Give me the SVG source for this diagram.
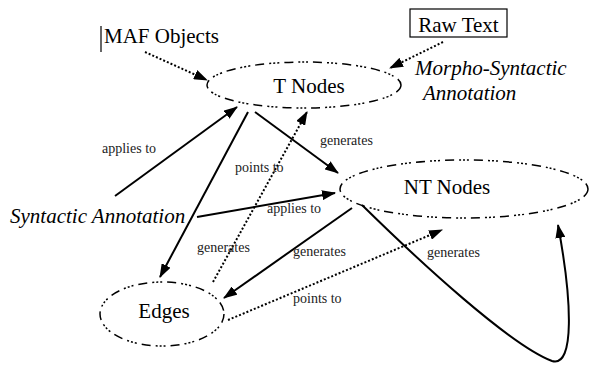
<svg xmlns="http://www.w3.org/2000/svg" width="589" height="365" viewBox="0 0 589 365">
<style>
.node{fill:none;stroke:#000;stroke-width:1.5;stroke-dasharray:9,5,2,2,2,2,2,5}
text{font-family:'Liberation Serif','Times New Roman',serif;fill:#000}
.big{font-size:21px}
.it{font-size:21px;font-style:italic}
.lbl{font-size:14px;fill:#222}
.s{fill:none;stroke:#000;stroke-width:2;marker-end:url(#ah)}
.d{fill:none;stroke:#000;stroke-width:2;stroke-dasharray:2,2;marker-end:url(#ah)}
</style>
<defs>
<marker id="ah" markerUnits="userSpaceOnUse" markerWidth="14" markerHeight="10" refX="13" refY="5" orient="auto">
<path d="M0,0 L14,5 L0,10 Z" fill="#000"/>
</marker>
</defs>
<rect width="589" height="365" fill="#fff"/>
<g id="maf-objects">
<line x1="101" y1="26" x2="101" y2="52" stroke="#000" stroke-width="1.2"/>
<text class="big" x="104" y="43">MAF Objects</text>
</g>
<g id="raw-text">
<rect x="410" y="9" width="97" height="28" fill="none" stroke="#000" stroke-width="1.2"/>
<text class="big" x="458.5" y="32" text-anchor="middle">Raw Text</text>
</g>
<g id="morpho-syntactic">
<text class="it" x="415" y="75">Morpho-Syntactic</text>
<text class="it" x="423" y="100">Annotation</text>
</g>
<g id="syntactic-annotation">
<text class="it" x="10" y="223">Syntactic Annotation</text>
</g>
<g id="t-nodes">
<ellipse class="node" cx="304" cy="85" rx="97" ry="23"/>
<text class="big" x="309" y="93" text-anchor="middle">T Nodes</text>
</g>
<g id="nt-nodes">
<ellipse class="node" cx="464" cy="189" rx="124" ry="29"/>
<text class="big" x="447" y="194" text-anchor="middle">NT Nodes</text>
</g>
<g id="edges">
<ellipse class="node" cx="162" cy="314" rx="62" ry="32"/>
<text class="big" x="164" y="318" text-anchor="middle">Edges</text>
</g>
<g id="connectors">
<path class="d" d="M145,52 L207,80"/>
<path class="d" d="M443,42 L390,68"/>
<path class="s" d="M115,196 L237,107"/>
<path class="s" d="M248,112 L160,277"/>
<path class="s" d="M255,112 L338,173"/>
<path class="d" d="M213,282 L307,112"/>
<path class="s" d="M197,217 L335,193"/>
<path class="s" d="M352,208 L224,298"/>
<path class="d" d="M228,320 L442,230"/>
<path class="s" d="M362,205 C420,262 510,345 552,361 C575,368 572,300 558,225"/>
</g>
<g id="labels">
<text class="lbl" x="102" y="153">applies to</text>
<text class="lbl" x="235" y="172">points to</text>
<text class="lbl" x="320" y="145">generates</text>
<text class="lbl" x="267" y="213">applies to</text>
<text class="lbl" x="197" y="252">generates</text>
<text class="lbl" x="293" y="256">generates</text>
<text class="lbl" x="427" y="257">generates</text>
<text class="lbl" x="293" y="303">points to</text>
</g>
</svg>
